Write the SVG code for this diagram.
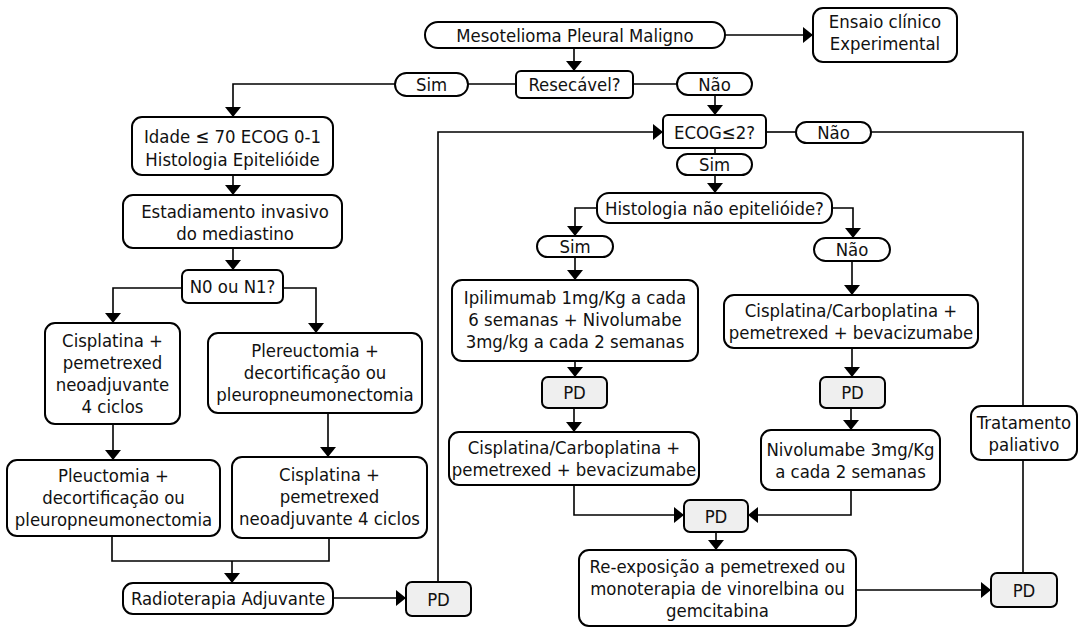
<svg xmlns="http://www.w3.org/2000/svg" width="1081" height="628" viewBox="0 0 1081 628">
<defs>
<marker id="arr" markerUnits="userSpaceOnUse" markerWidth="11" markerHeight="18" refX="10" refY="8" orient="auto">
<path d="M0,0 L10,8 L0,16 z" fill="#000"/>
</marker>
<style>
.n{fill:#fff;stroke:#000;stroke-width:2}
.p{fill:#efefef;stroke:#000;stroke-width:2}
.c{fill:none;stroke:#000;stroke-width:1.6}
.a{fill:none;stroke:#000;stroke-width:1.6;marker-end:url(#arr)}
text{font-family:"DejaVu Sans Condensed","DejaVu Sans","Liberation Sans",sans-serif;font-stretch:condensed;font-size:18.4px;fill:#111;text-anchor:middle}
</style>
</defs>
<rect width="1081" height="628" fill="#fff"/>
<g id="connectors">
<path class="a" d="M725,35 H813"/>
<path class="a" d="M574,48 V71"/>
<path class="c" d="M516,84 H468"/>
<path class="a" d="M395,84 H233 V117"/>
<path class="c" d="M633,84 H677"/>
<path class="a" d="M715,95 V115"/>
<path class="a" d="M233,175 V195"/>
<path class="a" d="M233,248 V270"/>
<path class="a" d="M182,288 H113 V323"/>
<path class="a" d="M283,288 H316 V333"/>
<path class="a" d="M113,424 V460"/>
<path class="a" d="M328,413 V457"/>
<path class="c" d="M112,536 V561 H329 V538"/>
<path class="a" d="M232,561 V583"/>
<path class="a" d="M333,598 H406"/>
<path class="a" d="M438,582 V132 H663"/>
<path class="c" d="M766,132 H796"/>
<path class="c" d="M871,132 H1023 V406"/>
<path class="c" d="M1023,460 V573"/>
<path class="c" d="M715,148 V154"/>
<path class="a" d="M715,175 V193"/>
<path class="a" d="M597,208 H575 V236"/>
<path class="a" d="M832,208 H853 V238"/>
<path class="a" d="M575,257 V280"/>
<path class="a" d="M852,261 V295"/>
<path class="a" d="M575,361 V377"/>
<path class="a" d="M852,348 V377"/>
<path class="a" d="M574,408 V432"/>
<path class="a" d="M851,408 V430"/>
<path class="a" d="M574,485 V515 H684"/>
<path class="a" d="M851,490 V515 H748"/>
<path class="a" d="M716,532 V550"/>
<path class="a" d="M856,590 H991"/>
</g>
<g id="meso"><rect class="n" x="425" y="22" width="300" height="26" rx="13"/><text x="575" y="41.5">Mesotelioma Pleural Maligno</text></g>
<g id="ensaio"><rect class="n" x="813" y="8" width="144" height="54" rx="10"/><text x="885" y="28">Ensaio clínico</text><text x="885" y="50">Experimental</text></g>
<g id="resecavel"><rect class="n" x="516" y="71" width="117" height="27" rx="5"/><text x="574.5" y="90.5">Resecável?</text></g>
<g id="sim1"><rect class="n" x="395" y="73" width="73" height="23" rx="11.5"/><text x="431.5" y="90.5">Sim</text></g>
<g id="nao1"><rect class="n" x="677" y="73" width="75" height="22" rx="11"/><text x="714.5" y="90.5">Não</text></g>
<g id="idade"><rect class="n" x="132" y="117" width="201" height="58" rx="10"/><text x="232.5" y="142.5">Idade ≤ 70 ECOG 0-1</text><text x="232.5" y="165.5">Histologia Epitelióide</text></g>
<g id="estadiamento"><rect class="n" x="123" y="195" width="219" height="53" rx="10"/><text x="235" y="217.5">Estadiamento invasivo</text><text x="235" y="239.5">do mediastino</text></g>
<g id="n0n1"><rect class="n" x="182" y="270" width="101" height="33" rx="6"/><text x="232.5" y="292.5">N0 ou N1?</text></g>
<g id="cisplatina1"><rect class="n" x="45" y="323" width="135" height="101" rx="10"/><text x="112.5" y="346.5">Cisplatina +</text><text x="112.5" y="368.5">pemetrexed</text><text x="112.5" y="390.5">neoadjuvante</text><text x="112.5" y="412.5">4 ciclos</text></g>
<g id="plereuctomia"><rect class="n" x="208" y="333" width="214" height="80" rx="10"/><text x="315" y="356.5">Plereuctomia +</text><text x="315" y="378.5">decortificação ou</text><text x="315" y="400.5">pleuropneumonectomia</text></g>
<g id="pleuctomia"><rect class="n" x="7" y="460" width="213" height="76" rx="10"/><text x="113.5" y="481.5">Pleuctomia +</text><text x="113.5" y="503.5">decortificação ou</text><text x="113.5" y="525.5">pleuropneumonectomia</text></g>
<g id="cisplatina2"><rect class="n" x="232" y="457" width="195" height="81" rx="10"/><text x="329.5" y="480.5">Cisplatina +</text><text x="329.5" y="502.5">pemetrexed</text><text x="329.5" y="524.5">neoadjuvante 4 ciclos</text></g>
<g id="radioterapia"><rect class="n" x="123" y="583" width="210" height="31" rx="10"/><text x="228" y="604.5">Radioterapia Adjuvante</text></g>
<g id="pd1"><rect class="p" x="406" y="582" width="65" height="34" rx="6"/><text x="438.5" y="605.5">PD</text></g>
<g id="ecog"><rect class="n" x="663" y="115" width="103" height="33" rx="5"/><text x="714.5" y="138.5">ECOG≤2?</text></g>
<g id="nao2"><rect class="n" x="796" y="122" width="75" height="21" rx="10.5"/><text x="833.5" y="138.5">Não</text></g>
<g id="sim2"><rect class="n" x="677" y="154" width="75" height="21" rx="10.5"/><text x="714.5" y="170.5">Sim</text></g>
<g id="histologia"><rect class="n" x="597" y="193" width="235" height="30" rx="12"/><text x="714.5" y="214.5">Histologia não epitelióide?</text></g>
<g id="sim3"><rect class="n" x="537" y="236" width="76" height="21" rx="10.5"/><text x="575" y="252.5">Sim</text></g>
<g id="nao3"><rect class="n" x="814" y="238" width="76" height="23" rx="11.5"/><text x="852" y="255.5">Não</text></g>
<g id="ipilimumab"><rect class="n" x="452" y="280" width="246" height="81" rx="10"/><text x="575" y="303.5">Ipilimumab 1mg/Kg a cada</text><text x="575" y="325.5">6 semanas + Nivolumabe</text><text x="575" y="347.5">3mg/kg a cada 2 semanas</text></g>
<g id="cisplatina3"><rect class="n" x="724" y="295" width="254" height="53" rx="10"/><text x="851" y="316.5">Cisplatina/Carboplatina +</text><text x="851" y="338.5">pemetrexed + bevacizumabe</text></g>
<g id="pd2"><rect class="p" x="542" y="377" width="65" height="31" rx="6"/><text x="574.5" y="398.5">PD</text></g>
<g id="pd3"><rect class="p" x="820" y="377" width="65" height="31" rx="6"/><text x="852.5" y="398.5">PD</text></g>
<g id="cisplatina4"><rect class="n" x="449" y="432" width="250" height="53" rx="10"/><text x="574" y="453.5">Cisplatina/Carboplatina +</text><text x="574" y="475.5">pemetrexed + bevacizumabe</text></g>
<g id="nivolumabe"><rect class="n" x="761" y="430" width="179" height="60" rx="10"/><text x="850.5" y="455.5">Nivolumabe 3mg/Kg</text><text x="850.5" y="477.5">a cada 2 semanas</text></g>
<g id="pd4"><rect class="p" x="684" y="500" width="64" height="32" rx="6"/><text x="716" y="522.5">PD</text></g>
<g id="reexposicao"><rect class="n" x="579" y="550" width="277" height="76" rx="10"/><text x="717.5" y="572.5">Re-exposição a pemetrexed ou</text><text x="717.5" y="594.5">monoterapia de vinorelbina ou</text><text x="717.5" y="616.5">gemcitabina</text></g>
<g id="tratamento"><rect class="n" x="971" y="406" width="106" height="54" rx="10"/><text x="1024" y="428.5">Tratamento</text><text x="1024" y="450.5">paliativo</text></g>
<g id="pd5"><rect class="p" x="991" y="573" width="66" height="34" rx="6"/><text x="1024" y="596.5">PD</text></g>
</svg>
